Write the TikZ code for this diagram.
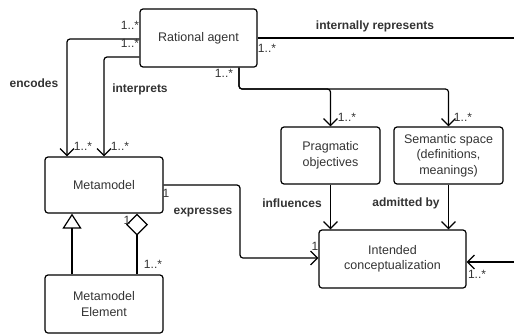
\documentclass[tikz,border=0pt]{standalone}
\usepackage{fontspec}
\setmainfont{Liberation Sans}
\usetikzlibrary{arrows.meta}
\definecolor{txt}{RGB}{51,51,51}
\tikzset{
  box/.style={draw, line width=1.2pt, rounded corners=3pt, align=center, text=txt,
    font=\fontsize{12.5}{15.5}\selectfont, inner sep=0pt},
  lbl/.style={text=txt, font=\bfseries\fontsize{12}{14}\selectfont, inner sep=0pt},
  mult/.style={text=txt, font=\fontsize{12}{14}\selectfont, inner sep=0pt},
  assoc/.style={line width=1.2pt, rounded corners=3pt},
  opentip/.style={-{Straight Barb[length=7pt,width=14pt]}},
}
\begin{document}
\begin{tikzpicture}[x=1pt,y=-1pt]
      \useasboundingbox (0,0) rectangle (514,335);
      \draw
        (198.5,38) node[box,minimum width=117pt,minimum height=58pt] (agent){Rational agent}
        (104,185) node[box,minimum width=118pt,minimum height=56pt] (meta){Metamodel}
        (104,304) node[box,minimum width=118pt,minimum height=58pt] (elem){Metamodel\\Element}
        (330.5,155.5) node[box,minimum width=99pt,minimum height=57pt] (prag){Pragmatic\\objectives}
        (448.5,155.5) node[box,minimum width=109pt,minimum height=57pt] (sem){Semantic space\\(definitions,\\meanings)}
        (392.5,259) node[box,minimum width=147pt,minimum height=58pt] (concept){Intended\\conceptualization};
      \coordinate (rep) at (514,38);
      \coordinate (in) at (514,262);
      \begin{scope}[assoc]
        \draw[opentip] (agent.west |- 0,39) -| (meta.north -| 67,0);
        \draw[opentip] (agent.west |- 0,57) -| (meta.north -| 104,0);
        \draw (agent.east |- rep) -- (rep);
        \draw[opentip] (agent.south -| 239,0) |- (prag.north |- 0,89) -- (prag.north);
        \draw[opentip] (agent.south -| 239,0) |- (sem.north |- 0,89) -- (sem.north);
        \draw[opentip] (prag.south) -- (concept.north -| prag.south);
        \draw[opentip] (sem.south) -- (concept.north -| sem.south);
        \draw[opentip] (meta.east) -- (240,185) |- (concept.west |- 0,258);
        \draw[opentip] (in) -- (concept.east |- in);
        \draw[-{Triangle[open,length=15pt,width=19pt]}] (elem.north -| 72,0) -- (meta.south -| 72,0);
        \draw[-{Diamond[open,length=22pt,width=22pt]}] (elem.north -| 137,0) -- (meta.south -| 137,0);
      \end{scope}
      \node[lbl] (encodes) at (34,83) {encodes};
      \node[lbl] (interprets) at (140,89) {interprets};
      \node[lbl] (represents) at (375,26) {internally represents};
      \node[lbl] (expresses) at (203,213) {expresses};
      \node[lbl] (influences) at (292,203) {influences};
      \node[lbl] (admitted) at (406,203) {admitted by};
      \node[mult] (m1) at (130,25) {1..*};
      \node[mult] (m2) at (130,43) {1..*};
      \node[mult] (m3) at (83,146) {1..*};
      \node[mult] (m4) at (120,146) {1..*};
      \node[mult] (m5) at (224,73) {1..*};
      \node[mult] (m6) at (267,48) {1..*};
      \node[mult] (m7) at (347,117) {1..*};
      \node[mult] (m8) at (463,117) {1..*};
      \node[mult] (m9) at (166,193) {1};
      \node[mult] (m10) at (315,246) {1};
      \node[mult] (m11) at (477,274) {1..*};
      \node[mult] (m12) at (127,220) {1};
      \node[mult] (m13) at (153,264) {1..*};
\end{tikzpicture}
\end{document}
